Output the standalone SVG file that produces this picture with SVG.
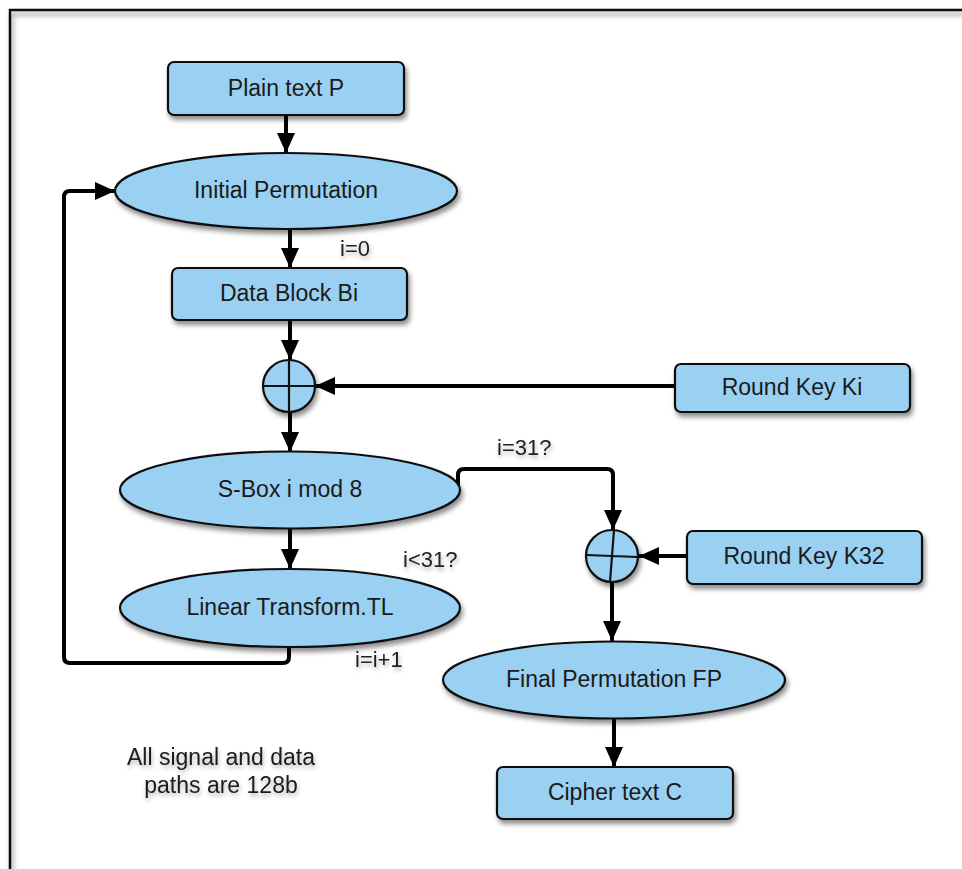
<svg xmlns="http://www.w3.org/2000/svg" width="962" height="869" viewBox="0 0 962 869">
<defs>
<filter id="sh" x="-20%" y="-20%" width="140%" height="160%">
<feDropShadow dx="2" dy="4" stdDeviation="2.5" flood-color="#000" flood-opacity="0.45"/>
</filter>
<filter id="tsh" x="-20%" y="-40%" width="140%" height="200%">
<feDropShadow dx="1" dy="3" stdDeviation="2" flood-color="#000" flood-opacity="0.3"/>
</filter>
<marker id="ah" markerUnits="userSpaceOnUse" markerWidth="20" markerHeight="18" refX="20" refY="9" orient="auto">
<path d="M0,0 L20,9 L0,18 z" fill="#000"/>
</marker>
<style>
.n{fill:#9ad0f1;stroke:#111;stroke-width:2.2}
.t{font-family:"Liberation Sans",Arial,sans-serif;font-size:23px;fill:#1a1a1a;text-anchor:middle}
.l{font-family:"Liberation Sans",Arial,sans-serif;font-size:22px;fill:#222}
.c{fill:none;stroke:#000;stroke-width:4;stroke-linejoin:round}
.x{fill:none;stroke:#111;stroke-width:2.2}
</style>
</defs>
<rect width="962" height="869" fill="#fff"/>
<path d="M10,869 V10 H962" fill="none" stroke="#111" stroke-width="2.5" filter="url(#sh)"/>

<g id="connectors">
<line class="c" x1="286" y1="115" x2="286" y2="153" marker-end="url(#ah)"/>
<line class="c" x1="290" y1="229" x2="290" y2="268" marker-end="url(#ah)"/>
<line class="c" x1="290" y1="320" x2="290" y2="360" marker-end="url(#ah)"/>
<line class="c" x1="290" y1="412" x2="290" y2="452" marker-end="url(#ah)"/>
<line class="c" x1="290" y1="528" x2="290" y2="569" marker-end="url(#ah)"/>
<line class="c" x1="675" y1="386" x2="315" y2="386" marker-end="url(#ah)"/>
<path class="c" d="M289,647 V657 Q289,663 283,663 H70 Q64,663 64,657 V197 Q64,191 70,191 H115" marker-end="url(#ah)"/>
<path class="c" d="M458,487 V475 Q458,469 464,469 H607 Q613,469 613,475 V530" marker-end="url(#ah)"/>
<line class="c" x1="687" y1="556" x2="639" y2="556" marker-end="url(#ah)"/>
<line class="c" x1="612" y1="582" x2="612" y2="641" marker-end="url(#ah)"/>
<line class="c" x1="614" y1="718" x2="614" y2="767" marker-end="url(#ah)"/>
</g>

<g id="plain">
<rect class="n" x="168" y="62" width="236" height="53" rx="6" filter="url(#sh)"/>
<text class="t" x="286" y="96">Plain text P</text>
</g>
<g id="ip">
<ellipse class="n" cx="286" cy="191" rx="171" ry="38" filter="url(#sh)"/>
<text class="t" x="286" y="198">Initial Permutation</text>
</g>
<g id="datablock">
<rect class="n" x="172" y="268" width="235" height="52" rx="6" filter="url(#sh)"/>
<text class="t" x="289" y="301">Data Block Bi</text>
</g>
<g id="xor1">
<circle class="n" cx="289" cy="386" r="26" filter="url(#sh)"/>
<path class="x" d="M289,360 V412 M263,386 H315"/>
</g>
<g id="rki">
<rect class="n" x="675" y="364" width="235" height="48" rx="6" filter="url(#sh)"/>
<text class="t" x="792" y="395">Round Key Ki</text>
</g>
<g id="sbox">
<ellipse class="n" cx="290" cy="490" rx="170" ry="38.5" filter="url(#sh)"/>
<text class="t" x="290" y="497">S-Box i mod 8</text>
</g>
<g id="lt">
<ellipse class="n" cx="290" cy="608" rx="170" ry="39" filter="url(#sh)"/>
<text class="t" x="290" y="615">Linear Transform.TL</text>
</g>
<g id="xor2">
<circle class="n" cx="612" cy="556" r="26" filter="url(#sh)"/>
<path class="x" d="M614,530 L610,582 M586,555 L638,557"/>
</g>
<g id="rk32">
<rect class="n" x="687" y="531" width="235" height="53" rx="6" filter="url(#sh)"/>
<text class="t" x="804" y="564">Round Key K32</text>
</g>
<g id="fp">
<ellipse class="n" cx="614" cy="680" rx="171" ry="38.5" filter="url(#sh)"/>
<text class="t" x="614" y="687">Final Permutation FP</text>
</g>
<g id="cipher">
<rect class="n" x="497" y="767" width="236" height="52" rx="6" filter="url(#sh)"/>
<text class="t" x="615" y="800">Cipher text C</text>
</g>

<g id="labels" filter="url(#tsh)">
<text class="l" x="340" y="256">i=0</text>
<text class="l" x="497" y="455">i=31?</text>
<text class="l" x="403" y="567">i&lt;31?</text>
<text class="l" x="355" y="667">i=i+1</text>
<text class="t" x="221" y="765">All signal and data</text>
<text class="t" x="221" y="793">paths are 128b</text>
</g>
</svg>
